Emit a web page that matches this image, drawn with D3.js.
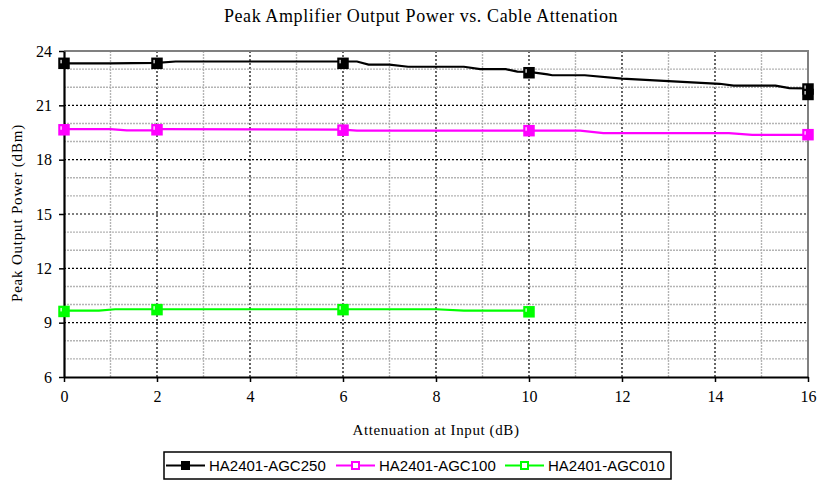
<html>
<head>
  <script src="https://d3js.org/d3.v7.min.js"></script>
  <style>
    body { margin: 0; background: #fff; }
  </style>
</head>
<body>
<div id="chart"></div>
<script>

  // ---- data ----
  var seriesNames = ["HA2401-AGC250", "HA2401-AGC100", "HA2401-AGC010"];
  var seriesColors = ["#000000", "#ff00ff", "#00ff00"];

  // dense traces (attenuation dB, output dBm)
  var agc250Line = [[0,23.32],[1,23.32],[2,23.34],[2.4,23.42],[6.3,23.42],[6.55,23.25],[7,23.25],[7.4,23.13],[8.6,23.13],[8.95,23.0],[9.5,23.0],[9.75,22.86],[10,22.85],[10.4,22.71],[10.5,22.66],[11.2,22.66],[12,22.47],[14.1,22.19],[14.4,22.09],[15.3,22.09],[15.6,21.95],[16,21.93]];
  var agc100Line = [[0,19.69],[1,19.69],[1.35,19.62],[2,19.62],[2.1,19.69],[6,19.66],[6.3,19.6],[11.1,19.6],[11.6,19.47],[14.3,19.47],[14.8,19.37],[16,19.37]];
  var agc010Line = [[0,9.66],[0.75,9.66],[1.1,9.74],[8.0,9.74],[8.6,9.66],[10,9.66]];

  // measured points (markers)
  var agc250Points = [[0,23.32],[2,23.32],[6,23.32],[10,22.8],[16,21.9],[16,21.6]];
  var agc100Points = [[0,19.65],[2,19.65],[6,19.63],[10,19.6],[16,19.38]];
  var agc010Points = [[0,9.62],[2,9.72],[6,9.72],[10,9.6]];

  var xTicks = [0,2,4,6,8,10,12,14,16];
  var yTicks = [6,9,12,15,18,21,24];

  var lines = [agc250Line, agc100Line, agc010Line];
  var points = [agc250Points, agc100Points, agc010Points];

  // ---- layout ----
  var W = 817, H = 482;
  var plotL = 64, plotR = 808, plotT = 51, plotB = 377;

  var svg = d3.select("#chart").append("svg")
    .attr("width", W).attr("height", H);

  var x = d3.scaleLinear().domain([0,16]).range([plotL, plotR]);
  var y = d3.scaleLinear().domain([6,24]).range([plotB, plotT]);

  var serif = "'Liberation Serif', 'Times New Roman', serif";
  var sans = "'Liberation Sans', Arial, sans-serif";

  // grid, minor gray + major black dashed
  var grid = svg.append("g");
  d3.range(1, 16).forEach(function(v){
    var major = v % 2 == 0;
    grid.append("line")
      .attr("x1", x(v)).attr("x2", x(v)).attr("y1", plotT).attr("y2", plotB)
      .attr("stroke", major ? "#000" : "#b4b4b4")
      .attr("stroke-width", major ? 1.2 : 1.4)
      .attr("stroke-dasharray", major ? "2,2" : "2,1");
  });
  d3.range(7, 24).forEach(function(v){
    var major = v % 3 == 0;
    grid.append("line")
      .attr("x1", plotL).attr("x2", plotR).attr("y1", y(v)).attr("y2", y(v))
      .attr("stroke", major ? "#000" : "#b4b4b4")
      .attr("stroke-width", major ? 1.2 : 1.4)
      .attr("stroke-dasharray", major ? "2,2" : "2,1");
  });

  // gray frame top/right
  svg.append("line").attr("x1", plotL).attr("x2", plotR + 1).attr("y1", plotT).attr("y2", plotT)
    .attr("stroke", "#808080").attr("stroke-width", 2);
  svg.append("line").attr("x1", plotR).attr("x2", plotR).attr("y1", plotT).attr("y2", plotB)
    .attr("stroke", "#808080").attr("stroke-width", 2);

  // axes
  var xAxis = svg.append("g").attr("transform", "translate(0," + plotB + ")")
    .call(d3.axisBottom(x).tickValues(xTicks).tickSize(5).tickPadding(9).tickSizeOuter(0));
  var yAxis = svg.append("g").attr("transform", "translate(" + plotL + ",0)")
    .call(d3.axisLeft(y).tickValues(yTicks).tickSize(5).tickPadding(7).tickSizeOuter(0));
  [xAxis, yAxis].forEach(function(a){
    a.select(".domain").attr("stroke", "#000").attr("stroke-width", 2.2);
    a.selectAll(".tick line").attr("stroke", "#000").attr("stroke-width", 1.5);
    a.selectAll("text").style("font-family", serif).style("font-size", "16px").attr("fill", "#000");
  });

  // series
  var lineGen = d3.line().x(function(d){ return x(d[0]); }).y(function(d){ return y(d[1]); });
  lines.forEach(function(data, i){
    svg.append("path").datum(data)
      .attr("d", lineGen)
      .attr("fill", "none")
      .attr("stroke", seriesColors[i])
      .attr("stroke-width", 2.2);
  });

  function marker(g, cx, cy, c){
    g.append("rect").attr("x", cx - 5).attr("y", cy - 5).attr("width", 10).attr("height", 10)
      .attr("fill", c).attr("stroke", c).attr("stroke-width", 1.5);
    g.append("rect").attr("x", cx - 3.5).attr("y", cy - 3.5).attr("width", 1.2).attr("height", 3.5)
      .attr("fill", "#fff");
  }
  points.forEach(function(data, i){
    var g = svg.append("g");
    data.forEach(function(d){ marker(g, x(d[0]), y(d[1]), seriesColors[i]); });
  });

  // titles
  svg.append("text").attr("x", 421).attr("y", 22).attr("text-anchor", "middle")
    .style("font-family", serif).style("font-size", "18px").style("letter-spacing", "0.6px")
    .text("Peak Amplifier Output Power vs. Cable Attenation");
  svg.append("text").attr("x", 436).attr("y", 435).attr("text-anchor", "middle")
    .style("font-family", serif).style("font-size", "15px").style("letter-spacing", "0.6px")
    .text("Attenuation at Input (dB)");
  svg.append("text").attr("transform", "translate(22,213) rotate(-90)").attr("text-anchor", "middle")
    .style("font-family", serif).style("font-size", "15px").style("letter-spacing", "0.8px")
    .text("Peak Output Power (dBm)");

  // legend
  var legend = svg.append("g");
  legend.append("rect").attr("x", 164).attr("y", 452).attr("width", 507).attr("height", 27)
    .attr("fill", "#fff").attr("stroke", "#000").attr("stroke-width", 1.5);
  var legendX = [166, 336, 505];
  seriesNames.forEach(function(name, i){
    var lx = legendX[i];
    legend.append("line").attr("x1", lx).attr("x2", lx + 39).attr("y1", 465.5).attr("y2", 465.5)
      .attr("stroke", seriesColors[i]).attr("stroke-width", 2);
    legend.append("rect").attr("x", lx + 16).attr("y", 462).attr("width", 7).attr("height", 7)
      .attr("fill", i == 0 ? "#000" : "#fff").attr("stroke", seriesColors[i]).attr("stroke-width", 2);
    legend.append("text").attr("x", lx + 43).attr("y", 471)
      .style("font-family", sans).style("font-size", "15px")
      .text(name);
  });

</script>
</body>
</html>
